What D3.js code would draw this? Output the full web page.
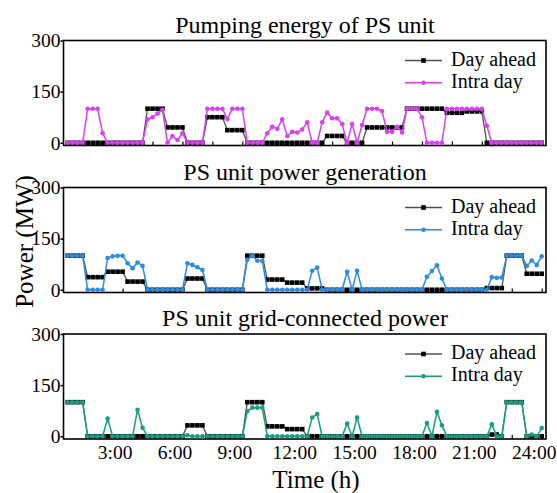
<!DOCTYPE html>
<html><head><meta charset="utf-8">
<script src="https://cdn.jsdelivr.net/npm/d3@7"></script>
<style>
body{margin:0;background:#fff}
text{font-family:"Liberation Serif","Times New Roman",Times,serif;fill:#000}
</style>
</head><body>
<svg id="chart" width="557" height="493"></svg>
<script>
// ---------- data ----------
const slots = d3.range(1, 97);                 // 96 fifteen-minute slots
const xTickSlots = d3.range(6, 97, 6);
const xLabelSlots = [12, 24, 36, 48, 60, 72, 84, 96];
const xLabels = ["3:00", "6:00", "9:00", "12:00", "15:00", "18:00", "21:00", "24:00"];
const yTicks = [0, 150, 300];
const panelTitles = ["Pumping energy of PS unit", "PS unit power generation", "PS unit grid-connected power"];
const seriesNames = ["Day ahead", "Intra day"];
const intraColors = ["#dc3ef2", "#2a8be0", "#179e82"];

const pumpDayAhead = [
  0,0,0,0, 0,0,0,0, 0,0,0,0, 0,0,0,0,
  100,100,100,100, 45,45,45,45, 0,0,0,0, 75,75,75,75,
  37,37,37,37, 0,0,0,0, 0,0,0,0, 0,0,0,0,
  0,0,0,0, 20,20,20,20, 0,0,0,0, 45,45,45,45,
  45,45,45,45, 100,100,100,100, 100,100,100,100, 88,88,88,88,
  92,92,92,92, 0,0,0,0, 0,0,0,0, 0,0,0,0];
const pumpIntraDay = [
  0,0,0,0, 100,100,100,28, 0,0,0,0, 0,0,0,0,
  69,75,86,97, 0,20,8,28, 0,0,0,0, 100,100,100,100,
  70,100,100,100, 0,0,0,0, 28,47,41,69, 20,32,30,39,
  60,0,0,60, 89,72,72,55, 0,55,0,52, 100,100,100,93,
  32,32,47,30, 100,100,100,75, 0,0,0,0, 100,100,100,100,
  100,100,100,100, 50,0,0,0, 0,0,0,0, 0,0,0,0];
const genDayAhead = [
  100,100,100,100, 37,37,37,37, 53,53,53,53, 24,24,24,24,
  0,0,0,0, 0,0,0,0, 33,33,33,33, 0,0,0,0,
  0,0,0,0, 100,100,100,100, 30,30,30,30, 21,21,21,21,
  4,4,4,4, 0,0,0,0, 0,0,0,0, 0,0,0,0,
  0,0,0,0, 0,0,0,0, 0,0,0,0, 0,0,0,0,
  0,0,0,0, 5,5,5,5, 100,100,100,100, 47,47,47,47];
const genIntraDay = [
  100,100,100,100, 0,0,0,0, 93,98,100,100, 78,63,80,70,
  0,0,0,0, 0,0,0,0, 78,73,66,58, 0,0,0,0,
  0,0,0,0, 88,100,85,85, 0,0,0,0, 0,0,0,0,
  0,56,65,0, 0,0,0,0, 53,0,56,0, 0,0,0,0,
  0,0,0,0, 0,0,0,0, 38,55,72,33, 0,0,0,0,
  0,0,0,0, 0,37,35,36, 100,100,100,100, 70,86,73,98];
const gridDayAhead = [
  100,100,100,100, 0,0,0,0, 0,0,0,0, 0,0,0,0,
  0,0,0,0, 0,0,0,0, 32,32,32,32, 0,0,0,0,
  0,0,0,0, 100,100,100,100, 29,29,29,29, 21,21,21,21,
  0,0,0,0, 0,0,0,0, 0,0,0,0, 0,0,0,0,
  0,0,0,0, 0,0,0,0, 0,0,0,0, 0,0,0,0,
  0,0,0,0, 0,5,5,0, 100,100,100,100, 0,0,0,0];
const gridIntraDay = [
  100,100,100,100, 0,0,0,0, 52,0,0,0, 0,0,78,25,
  0,0,0,0, 0,0,0,0, 3,0,0,0, 0,0,0,0,
  0,0,0,0, 74,84,84,84, 0,0,0,0, 0,0,0,0,
  0,55,65,0, 0,0,0,0, 37,0,55,0, 0,0,0,0,
  0,0,0,0, 0,0,0,0, 39,0,72,32, 0,0,0,0,
  0,0,0,0, 0,35,0,0, 100,100,100,100, 0,5,0,24];

const dayAheadSeries = [pumpDayAhead, genDayAhead, gridDayAhead];
const intraDaySeries = [pumpIntraDay, genIntraDay, gridIntraDay];

// ---------- layout ----------
const svg = d3.select("#chart");
const frameLeft = 63.5, frameRight = 546;
const panelTops = [40.5, 187.5, 334];
const panelH = 105;
const x = d3.scaleLinear().domain([1, 96]).range([67.7, 541.7]);

panelTops.forEach((top, p) => {
  const g = svg.append("g");
  const y = d3.scaleLinear().domain([-8, 300]).range([top + panelH, top]);

  // title
  svg.append("text").attr("x", 305).attr("y", top - 8)
    .attr("text-anchor", "middle").style("font-size", "24px")
    .text(panelTitles[p]);

  // x ticks (inward)
  const xa = g.append("g").attr("transform", `translate(0,${top + panelH})`)
    .call(d3.axisBottom(x).tickValues(xTickSlots).tickSizeInner(-4).tickSizeOuter(0).tickFormat(""));
  xa.select(".domain").remove();
  xa.selectAll("line").attr("stroke", "#000").attr("stroke-width", 1.2);

  if (p === 2) {
    const xl = g.append("g").attr("transform", `translate(0,${top + panelH})`)
      .call(d3.axisBottom(x).tickValues(xLabelSlots).tickSize(0).tickPadding(6)
        .tickFormat((d, i) => xLabels[i]));
    xl.select(".domain").remove();
    xl.selectAll("text").attr("dx", -8).style("font-size", "19.5px")
      .style("font-family", '"Liberation Serif","Times New Roman",serif');
  }

  // y axis
  const ya = g.append("g").attr("transform", `translate(${frameLeft},0)`)
    .call(d3.axisLeft(y).tickValues(yTicks).tickSize(3).tickPadding(0));
  ya.select(".domain").remove();
  ya.selectAll("line").attr("stroke", "#000").attr("stroke-width", 1.5);
  ya.selectAll("text").style("font-size", "19.5px")
    .style("font-family", '"Liberation Serif","Times New Roman",serif');

  // frame
  g.append("rect").attr("x", frameLeft).attr("y", top)
    .attr("width", frameRight - frameLeft).attr("height", panelH)
    .attr("fill", "none").attr("stroke", "#000").attr("stroke-width", 1.6);

  const line = d3.line().x(d => x(d.i)).y(d => y(d.v));
  const da = slots.map((s, k) => ({i: s, v: dayAheadSeries[p][k]}));
  const id = slots.map((s, k) => ({i: s, v: intraDaySeries[p][k]}));

  g.append("path").datum(da).attr("d", line).attr("fill", "none")
    .attr("stroke", "#505050").attr("stroke-width", 1.3);
  g.selectAll(".sq").data(da).enter().append("rect")
    .attr("x", d => x(d.i) - 2.3).attr("y", d => y(d.v) - 2.3)
    .attr("width", 4.6).attr("height", 4.6).attr("fill", "#000");

  g.append("path").datum(id).attr("d", line).attr("fill", "none")
    .attr("stroke", intraColors[p]).attr("stroke-width", 1.5);
  g.selectAll(".dot").data(id).enter().append("circle")
    .attr("cx", d => x(d.i)).attr("cy", d => y(d.v)).attr("r", 2.3)
    .attr("fill", intraColors[p]);

  // legend
  const lg = svg.append("g");
  const rows = [top + 20, top + 42.2];
  const lx0 = 405, lx1 = 442, lxm = (lx0 + lx1) / 2;
  lg.append("line").attr("x1", lx0).attr("x2", lx1).attr("y1", rows[0]).attr("y2", rows[0])
    .attr("stroke", "#505050").attr("stroke-width", 1.3);
  lg.append("rect").attr("x", lxm - 2.3).attr("y", rows[0] - 2.3).attr("width", 4.6).attr("height", 4.6).attr("fill", "#000");
  lg.append("line").attr("x1", lx0).attr("x2", lx1).attr("y1", rows[1]).attr("y2", rows[1])
    .attr("stroke", intraColors[p]).attr("stroke-width", 1.5);
  lg.append("circle").attr("cx", lxm).attr("cy", rows[1]).attr("r", 2.3).attr("fill", intraColors[p]);
  rows.forEach((ry, k) => {
    lg.append("text").attr("x", 451).attr("y", ry + 5).style("font-size", "20px").text(seriesNames[k]);
  });
});

// axis titles
svg.append("text").attr("transform", "translate(33,241.5) rotate(-90)")
  .attr("text-anchor", "middle").style("font-size", "25px").text("Power (MW)");
svg.append("text").attr("x", 316).attr("y", 488)
  .attr("text-anchor", "middle").style("font-size", "25px").text("Time (h)");
</script>
</body></html>
